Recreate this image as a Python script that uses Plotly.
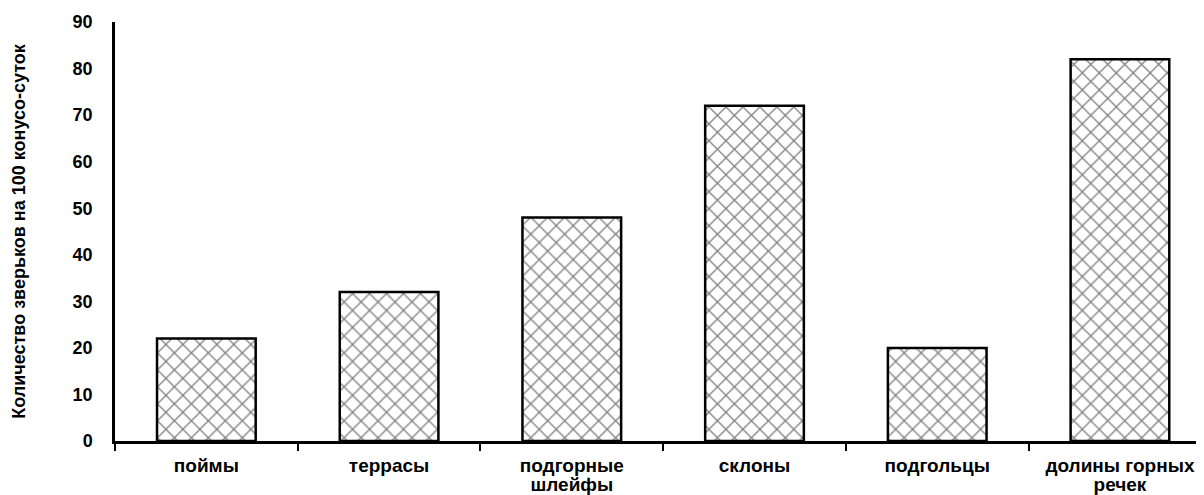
import plotly.graph_objects as go

categories = ["поймы", "террасы", "подгорные шлейфы", "склоны", "подгольцы", "долины горных речек"]
tick_labels = ["поймы", "террасы", "подгорные<br>шлейфы", "склоны", "подгольцы", "долины горных<br>речек"]
values = [22, 32, 48, 72, 20, 82]
y_ticks = [0, 10, 20, 30, 40, 50, 60, 70, 80, 90]
y_title = "Количество зверьков на 100 конусо-суток"

FONT = "Liberation Sans, Arial, sans-serif"

# labels drawn at 19px while the line spacing follows a 15px base font (tight spacing as in reference)
styled_labels = ["<br>".join(f"<span style='font-size:19px'>{p}</span>" for p in t.split("<br>"))
                 for t in tick_labels]

fig = go.Figure()
fig.add_trace(go.Bar(
    x=categories, y=values,
    marker=dict(
        color="white",
        line=dict(color="black", width=2.5),
        pattern=dict(shape="x", fgcolor="black", bgcolor="white", size=12, solidity=0.2),
    ),
    width=0.54,
    showlegend=False,
))

xr = [-0.5, 5.46]
fig.update_layout(
    width=1204, height=487,
    margin=dict(l=107, r=8, t=14, b=54),
    paper_bgcolor="white", plot_bgcolor="white",
    font=dict(family=FONT, color="black"),
    xaxis=dict(
        type="category", range=xr, automargin=False,
        tickmode="array", tickvals=categories, ticktext=styled_labels,
        showline=True, linecolor="black", linewidth=2.5,
        ticks="outside", tickson="boundaries", ticklen=7, tickwidth=2, tickcolor="black",
        tickfont=dict(family=FONT, size=15, weight="bold"),
        ticklabelstandoff=10,
        showgrid=False, zeroline=False,
    ),
    yaxis=dict(
        range=[0, 90], tickvals=y_ticks, automargin=False,
        showline=True, linecolor="black", linewidth=2.5,
        ticks="", ticklabelstandoff=16,
        tickfont=dict(family=FONT, size=18, weight="bold"),
        showgrid=False, zeroline=False,
        title=dict(text=y_title, font=dict(family=FONT, size=18, weight="bold"), standoff=43),
    ),
)

fig.write_html("out.html")
